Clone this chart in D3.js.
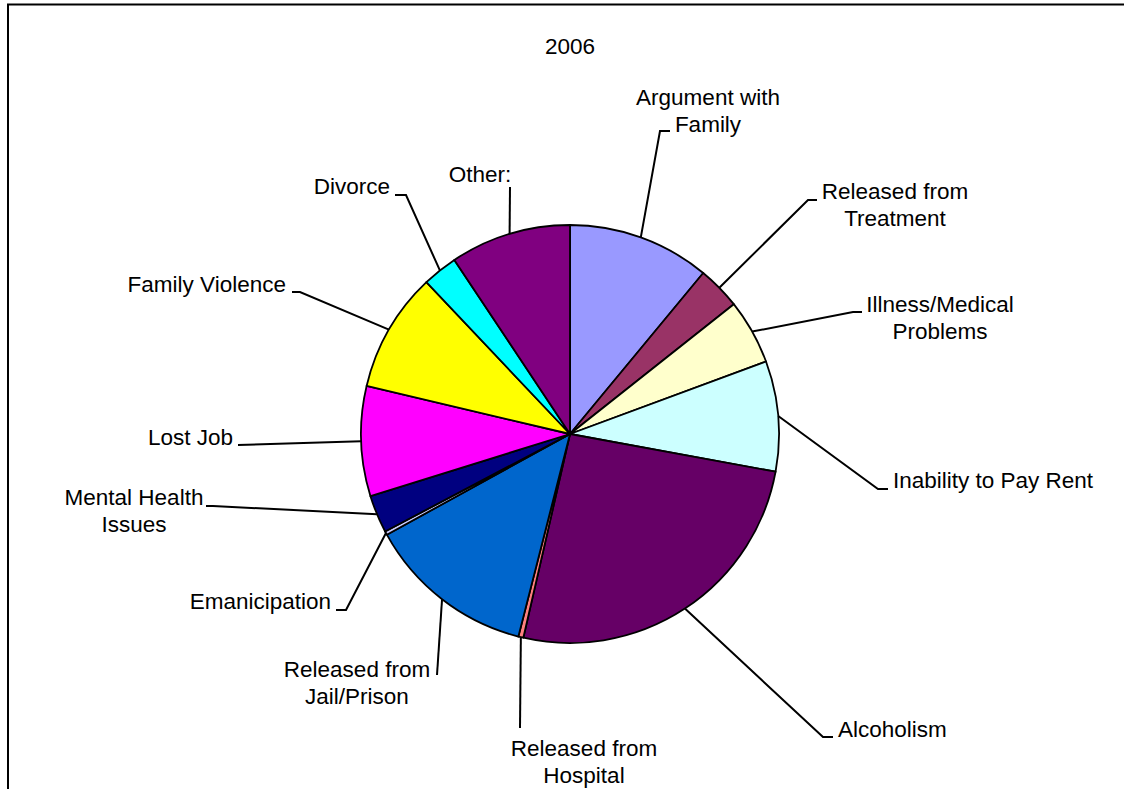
<!DOCTYPE html>
<html>
<head>
<meta charset="utf-8">
<script src="https://cdn.jsdelivr.net/npm/d3@7"></script>
<style>
  html, body { margin: 0; padding: 0; background: #fff; }
  svg text { font-family: "Liberation Sans", Arial, sans-serif; fill: #000; }
</style>
</head>
<body>
<svg id="chart" width="1124" height="789"></svg>
<script>
// ---- data ----
const title = "2006";
const categories = [
  "Argument with Family", "Released from Treatment", "Illness/Medical Problems",
  "Inability to Pay Rent", "Alcoholism", "Released from Hospital",
  "Released from Jail/Prison", "Emanicipation", "Mental Health Issues",
  "Lost Job", "Family Violence", "Divorce", "Other:"
];
const values = [39.6, 12.0, 18.1, 30.7, 92.5, 1.4, 46.9, 1.0, 10.5, 30.6, 33.3, 9.8, 33.6];
const labelLines = [
  ["Argument with", "Family"], ["Released from", "Treatment"], ["Illness/Medical", "Problems"],
  ["Inability to Pay Rent"], ["Alcoholism"], ["Released from", "Hospital"],
  ["Released from", "Jail/Prison"], ["Emanicipation"], ["Mental Health", "Issues"],
  ["Lost Job"], ["Family Violence"], ["Divorce"], ["Other:"]
];

// ---- styles / layout ----
const colors = ["#9999ff", "#993366", "#ffffcc", "#ccffff", "#660066", "#ff8080",
                "#0066cc", "#ccccff", "#000080", "#ff00ff", "#ffff00", "#00ffff", "#800080"];
const cx = 570, cy = 434, r = 209;
const fontSize = 22.5, lineH = 26.5;
// label placement: elbow point, end of horizontal tail, text anchor, text x, first baseline
const labelLayout = [
  {elbow: [660, 131], tail: [670, 131], anchor: "middle", tx: 708, ty: 105},
  {elbow: [808, 200], tail: [817, 200], anchor: "middle", tx: 895, ty: 199},
  {elbow: [853, 312], tail: [862, 312], anchor: "middle", tx: 940, ty: 312},
  {elbow: [878, 489], tail: [888, 489], anchor: "start",  tx: 893, ty: 488},
  {elbow: [823, 737], tail: [833, 737], anchor: "start",  tx: 838, ty: 737},
  {elbow: [520, 728], tail: null,       anchor: "middle", tx: 584, ty: 756},
  {elbow: [437, 675], tail: null,       anchor: "middle", tx: 357, ty: 677},
  {elbow: [346, 610], tail: [336, 610], anchor: "end",    tx: 331, ty: 609},
  {elbow: [213, 506], tail: [206, 506], anchor: "middle", tx: 134, ty: 505},
  {elbow: [238, 445], tail: null,       anchor: "end",    tx: 233, ty: 445},
  {elbow: [300, 292], tail: [292, 292], anchor: "end",    tx: 286, ty: 292},
  {elbow: [406, 195], tail: [395, 195], anchor: "end",    tx: 390, ty: 194},
  {elbow: [510, 187], tail: null,       anchor: "middle", tx: 480, ty: 182}
];

const svg = d3.select("#chart");

// frame
svg.append("path")
  .attr("d", "M8,789 L8,4.5 L1124,4.5")
  .attr("fill", "none").attr("stroke", "#000").attr("stroke-width", 2);

// title
svg.append("text")
  .attr("x", 570).attr("y", 54)
  .attr("text-anchor", "middle")
  .attr("font-size", fontSize)
  .text(title);

const data = categories.map((c, i) => ({name: c, value: values[i], color: colors[i], lines: labelLines[i], layout: labelLayout[i]}));

const pie = d3.pie().sort(null).value(d => d.value);
const arcs = pie(data);
const arc = d3.arc().innerRadius(0).outerRadius(r);

const g = svg.append("g").attr("transform", `translate(${cx},${cy})`);

g.selectAll("path.slice")
  .data(arcs)
  .join("path")
  .attr("class", "slice")
  .attr("d", arc)
  .attr("fill", d => d.data.color)
  .attr("stroke", "#000")
  .attr("stroke-width", 1.8)
  .attr("stroke-linejoin", "round");

// leader lines and labels
arcs.forEach(a => {
  const mid = (a.startAngle + a.endAngle) / 2;
  const sx = cx + r * Math.sin(mid);
  const sy = cy - r * Math.cos(mid);
  const L = a.data.layout;
  const pts = [[sx, sy], L.elbow];
  if (L.tail) pts.push(L.tail);
  svg.append("path")
    .attr("d", d3.line()(pts))
    .attr("fill", "none")
    .attr("stroke", "#000")
    .attr("stroke-width", 2);
  const t = svg.append("text")
    .attr("text-anchor", L.anchor)
    .attr("font-size", fontSize);
  a.data.lines.forEach((ln, i) => {
    t.append("tspan").attr("x", L.tx).attr("y", L.ty + i * lineH).text(ln);
  });
});
</script>
</body>
</html>
